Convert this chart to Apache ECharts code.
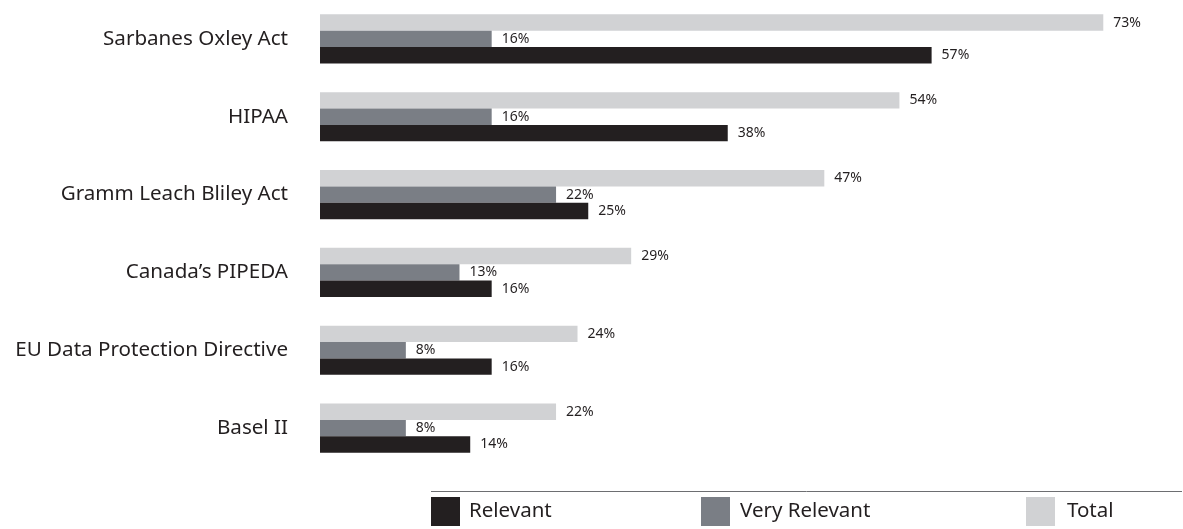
<!DOCTYPE html>
<html>
<head>
<meta charset="utf-8">
<script src="https://cdn.jsdelivr.net/npm/echarts@6/dist/echarts.min.js"></script>
<style>
  html, body { margin: 0; padding: 0; background: #fff; }
  #chart { width: 1183px; height: 529px; }
</style>
</head>
<body>
<div id="chart"></div>
<script>
// Regulations, listed top to bottom
const categories = [
  'Sarbanes Oxley Act',
  'HIPAA',
  'Gramm Leach Bliley Act',
  'Canada\u2019s PIPEDA',
  'EU Data Protection Directive',
  'Basel II'
];
// Percent of respondents per regulation
const totalValues        = [73, 54, 47, 29, 24, 22];
const veryRelevantValues = [16, 16, 22, 13, 8, 8];
const relevantValues     = [57, 38, 25, 16, 16, 14];

const FONT = '"Noto Sans", sans-serif';
const TEXT = '#231f20';

const valueLabel = {
  show: true,
  position: 'right',
  distance: 10,
  formatter: '{c}%',
  fontFamily: FONT,
  fontSize: 14,
  color: TEXT
};

function barSeries(name, data, color) {
  return {
    name: name,
    type: 'bar',
    data: data,
    barWidth: 16.4,
    barGap: '0%',
    itemStyle: { color: color },
    label: valueLabel,
    emphasis: { disabled: true },
    animation: false
  };
}

function legendItem(name, left, textGap) {
  return {
    data: [name],
    left: left,
    top: 497,
    padding: 0,
    itemWidth: 29,
    itemHeight: 29,
    itemGap: 0,
    icon: 'rect',
    selectedMode: false,
    textStyle: {
      fontFamily: FONT,
      fontSize: 20.5,
      color: TEXT,
      padding: [0, 0, 0, textGap]
    }
  };
}

const chart = echarts.init(document.getElementById('chart'), null, { renderer: 'canvas' });
chart.setOption({
  backgroundColor: '#ffffff',
  animation: false,
  grid: { left: 320, right: 4.6, top: -3, bottom: 62, containLabel: false },
  xAxis: { type: 'value', min: 0, max: 80, show: false },
  yAxis: {
    type: 'category',
    data: categories,
    inverse: true,
    axisLine: { show: false },
    axisTick: { show: false },
    axisLabel: { margin: 32, fontFamily: FONT, fontSize: 20.6, color: TEXT }
  },
  legend: [
    legendItem('Relevant', 431, 4),
    legendItem('Very Relevant', 701, 5),
    legendItem('Total', 1026, 7)
  ],
  graphic: [{
    type: 'line',
    shape: { x1: 431, y1: 491.5, x2: 1182, y2: 491.5 },
    style: { stroke: '#6d6e71', lineWidth: 1 }
  }],
  series: [
    barSeries('Total', totalValues, '#d1d2d4'),
    barSeries('Very Relevant', veryRelevantValues, '#7a7e85'),
    barSeries('Relevant', relevantValues, '#231f20')
  ]
});
</script>
</body>
</html>
